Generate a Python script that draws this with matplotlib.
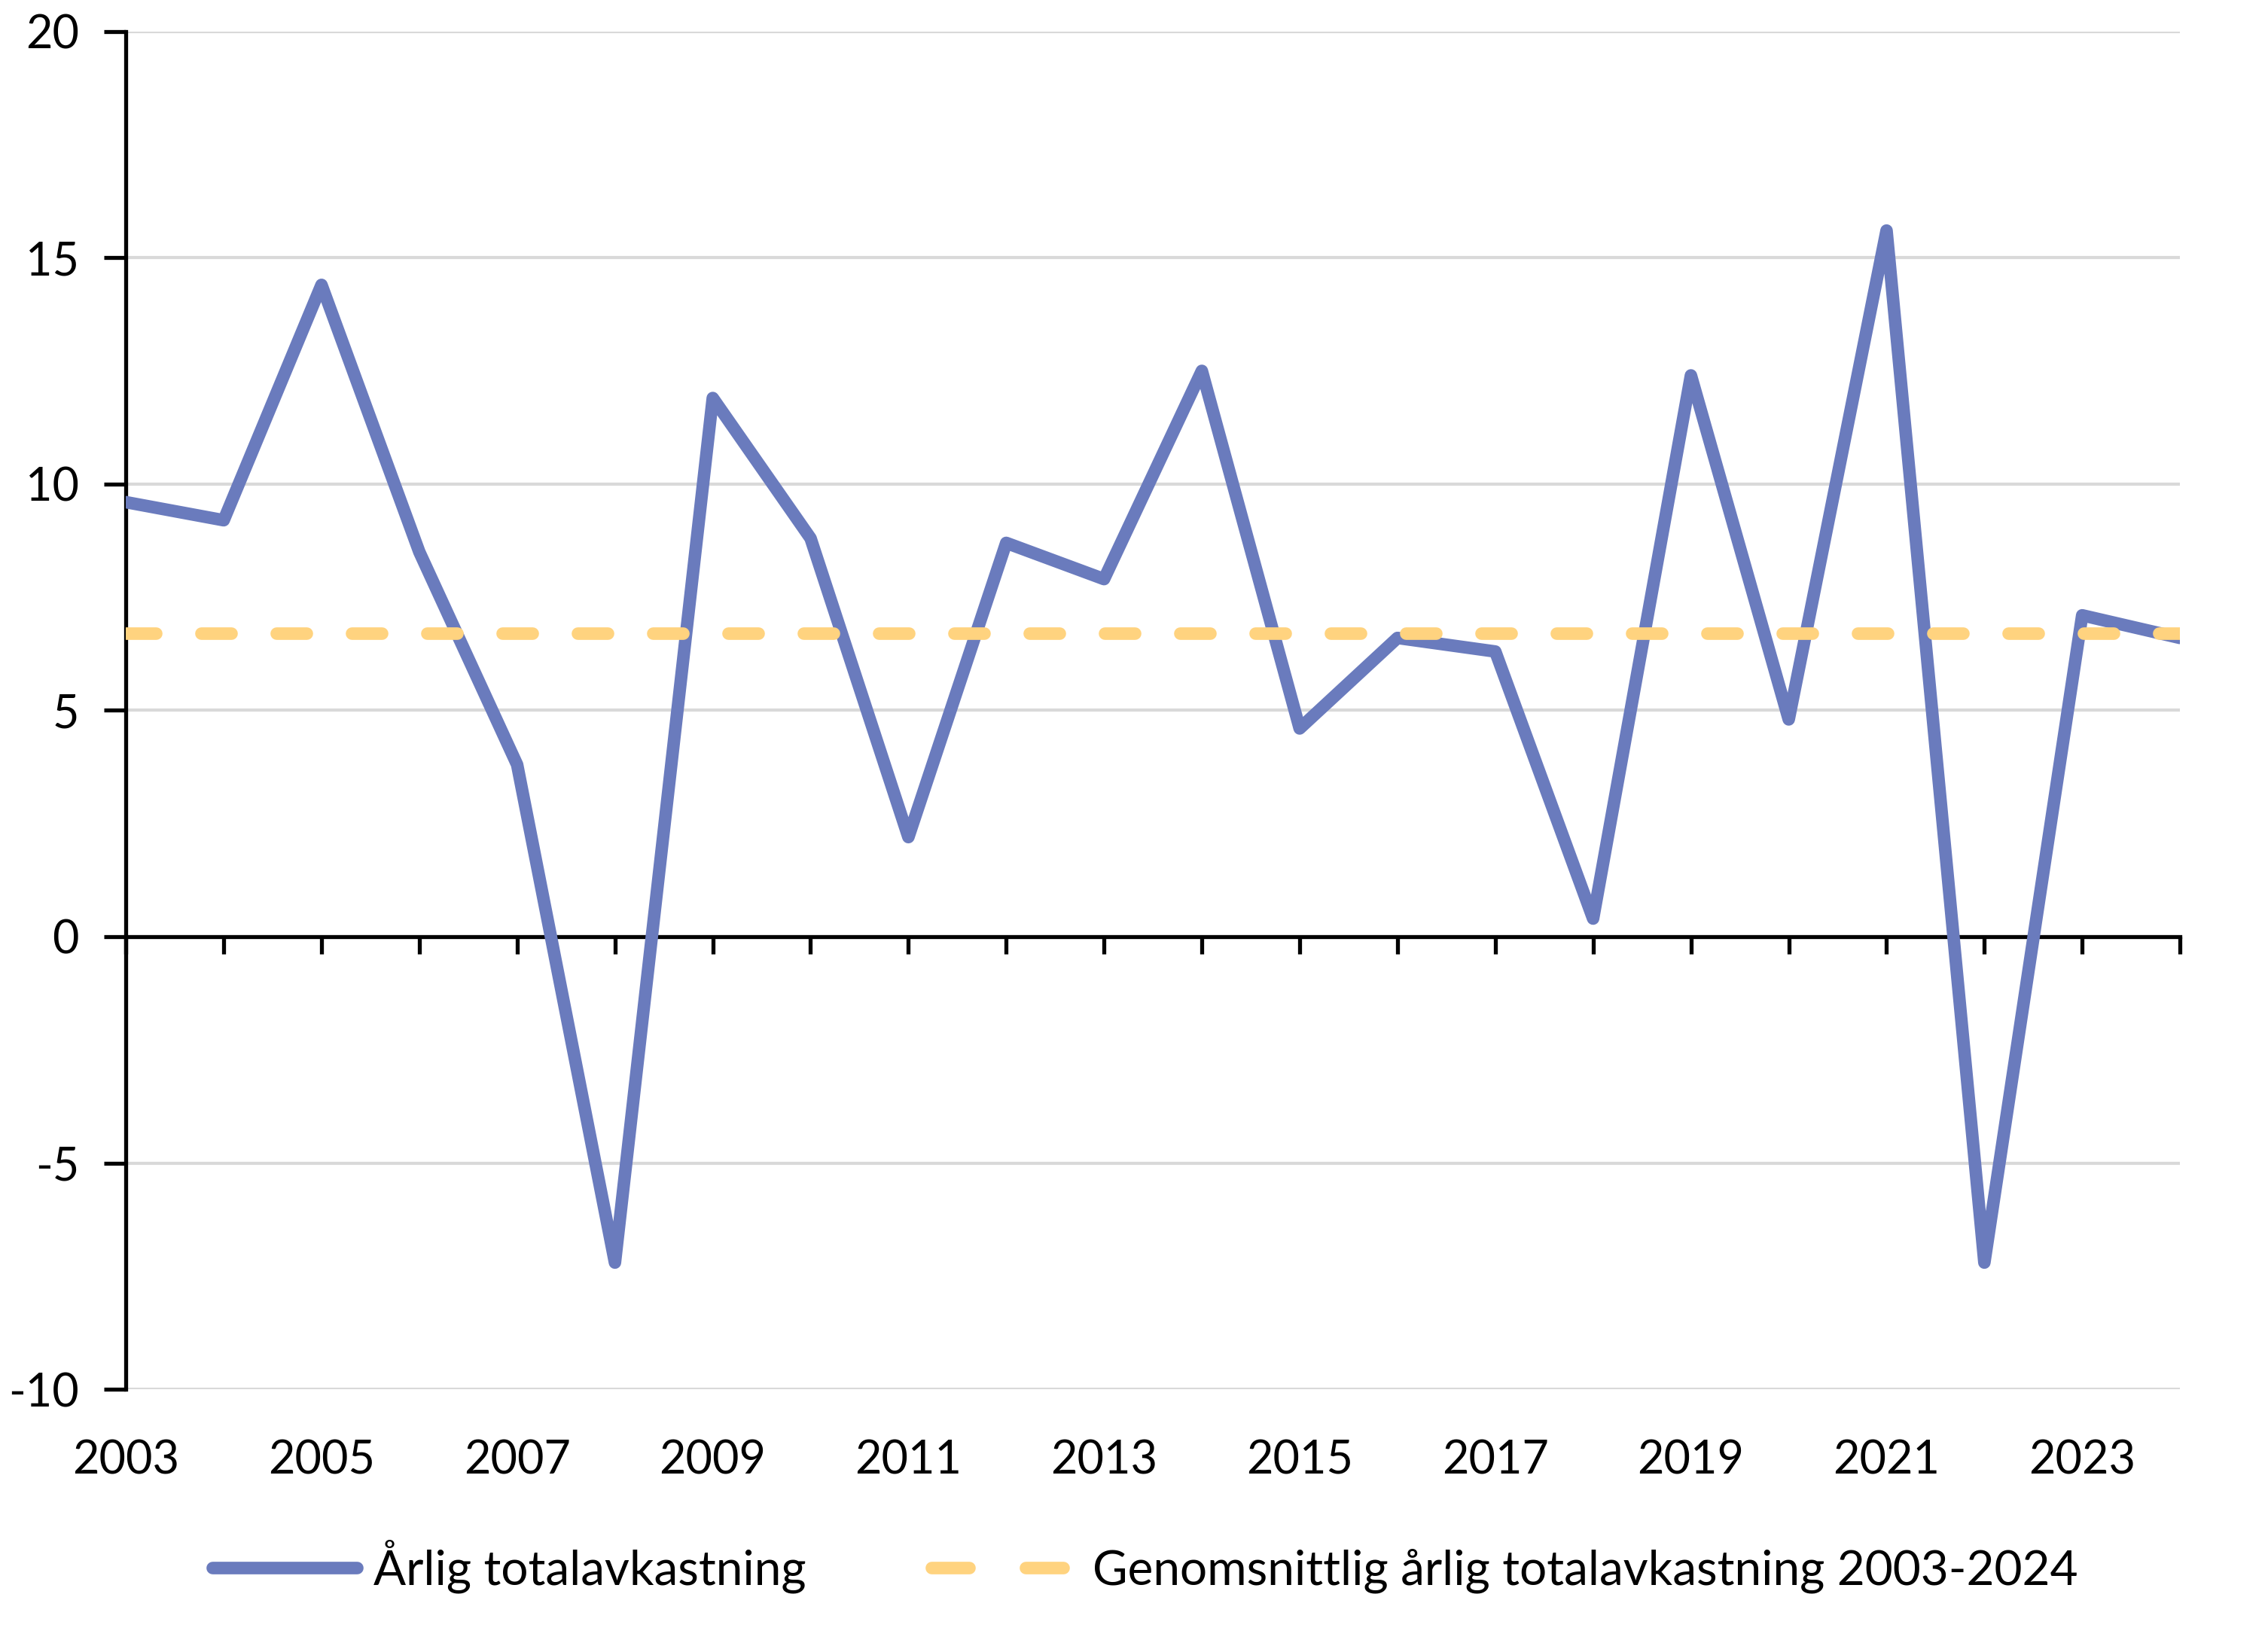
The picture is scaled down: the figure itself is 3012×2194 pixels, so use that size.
import matplotlib
matplotlib.use('Agg')
import matplotlib.pyplot as plt
from matplotlib.lines import Line2D

plt.rcParams.update({'font.family': ['Lato', 'DejaVu Sans'], 'font.size': 22,
                     'axes.unicode_minus': False})

years = list(range(2003, 2025))
annual_return = [9.6, 9.2, 14.4, 8.5, 3.8, -7.2, 11.9, 8.8, 2.2, 8.7, 7.9,
                 12.5, 4.6, 6.6, 6.3, 0.4, 12.4, 4.8, 15.6, -7.2, 7.1, 6.6]
avg_return = 6.7
label_years = years[::2]
y_ticks = [-10, -5, 0, 5, 10, 15, 20]
series_labels = ['Årlig totalavkastning', 'Genomsnittlig årlig totalavkastning 2003-2024']

blue = '#6A7BBD'
yellow = '#FFD37F'

fig = plt.figure(figsize=(15.06, 10.97), dpi=200)
ax = fig.add_axes([0.0555, 0.159, 0.9057, 0.822])

l1, = ax.plot(years, annual_return, color=blue, lw=6, solid_joinstyle='round',
              solid_capstyle='round', zorder=3, label=series_labels[0])
ax.plot(years, [avg_return] * len(years), color=yellow, lw=6, dashes=(2.4, 3.6),
        dash_capstyle='round', zorder=4)

ax.set_xlim(2003, 2024)
ax.set_ylim(-10, 20)
ax.set_yticks(y_ticks)
ax.yaxis.grid(True, color='#D9D9D9', lw=1.5)
ax.set_axisbelow(True)

for s in ['top', 'right']:
    ax.spines[s].set_visible(False)
ax.spines['bottom'].set_position(('data', 0))
ax.spines['bottom'].set_linewidth(1.9)
ax.spines['left'].set_linewidth(1.9)

ax.set_xticks(years)
ax.tick_params(axis='x', direction='out', length=8.3, width=1.9, labelbottom=False)
ax.tick_params(axis='y', direction='out', length=10.4, width=1.9, pad=12)

sec = ax.secondary_xaxis(0)
sec.set_xticks(label_years)
sec.spines['bottom'].set_visible(False)
sec.tick_params(length=0, pad=24)

# legend proxy so the handle shows two whole dashes
l2 = Line2D([], [], color=yellow, lw=6, dashes=(3.0, 4.5), dash_capstyle='round')

fig.legend([l1, l2], series_labels, loc='center', bbox_to_anchor=(0.505, 0.052), ncol=2,
           frameon=False, fontsize=23, handlelength=3.0, handletextpad=0.35, columnspacing=2.6)

fig.savefig('out.png', dpi=200, facecolor='white')
